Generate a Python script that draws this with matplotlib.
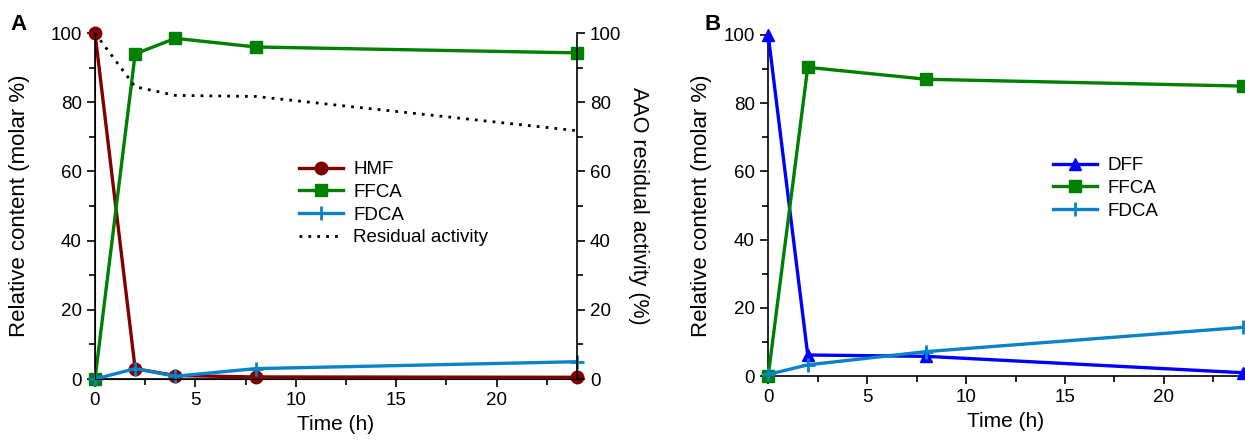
import matplotlib
matplotlib.use("Agg")
import matplotlib.pyplot as plt
from matplotlib.ticker import MultipleLocator

plt.rcParams['font.family'] = ['Liberation Sans', 'DejaVu Sans']
plt.rcParams['font.size'] = 13.5

# panel A
time_a = [0, 2, 4, 8, 24]
hmf = [100, 3, 1, 0.6, 0.5]
ffca_a = [0, 94, 98.5, 96, 94.3]
fdca_a = [0, 3, 0.8, 3, 5]
residual = [100, 84.5, 82, 81.7, 71.8]

# panel B
time_b = [0, 2, 8, 24]
dff = [100, 6.2, 5.8, 1]
ffca_b = [0, 90.5, 87, 85]
fdca_b = [0.5, 3.3, 7.2, 14.3]

red = '#800000'
green = '#008000'
cyan = '#0a82c8'
blue = '#0000ff'

fig = plt.figure(figsize=(12.45, 4.42), dpi=100)
axA = fig.add_axes([0.0763, 0.1425, 0.387, 0.7825])
axB = fig.add_axes([0.617, 0.149, 0.3815, 0.772])


def style(ax):
    ax.set_xlim(0, 24)
    ax.set_ylim(0, 100)
    ax.xaxis.set_major_locator(MultipleLocator(5))
    ax.xaxis.set_minor_locator(MultipleLocator(2.5))
    ax.yaxis.set_major_locator(MultipleLocator(20))
    ax.yaxis.set_minor_locator(MultipleLocator(10))
    ax.tick_params(which='major', direction='out', length=6, width=1.2)
    ax.tick_params(which='minor', direction='out', length=4, width=1.2)
    ax.spines['top'].set_visible(False)
    ax.spines['right'].set_visible(False)
    for s in ('left', 'bottom'):
        ax.spines[s].set_linewidth(1.2)
    ax.set_xlabel('Time (h)', fontsize=15, labelpad=4)
    ax.set_ylabel('Relative content (molar %)', fontsize=16, labelpad=8)


lw = 2.4
axA.plot(time_a, hmf, color=red, lw=lw, marker='o', ms=9, label='HMF', clip_on=False, zorder=3)
axA.plot(time_a, ffca_a, color=green, lw=lw, marker='s', ms=8, label='FFCA', clip_on=False, zorder=3)
axA.plot(time_a, fdca_a, color=cyan, lw=lw, marker='+', ms=10, mew=2, label='FDCA', clip_on=False, zorder=4)
style(axA)
axA.yaxis.labelpad = 15

twin = axA.twinx()
twin.plot(time_a, residual, color='black', lw=2, ls=(0, (1, 2.2)), label='Residual activity', clip_on=False)
twin.set_ylim(0, 100)
twin.yaxis.set_major_locator(MultipleLocator(20))
twin.yaxis.set_minor_locator(MultipleLocator(10))
twin.tick_params(which='major', direction='out', length=6, width=1.2)
twin.tick_params(which='minor', direction='out', length=4, width=1.2)
twin.spines['top'].set_visible(False)
twin.spines['right'].set_linewidth(1.2)
twin.set_ylabel('AAO residual activity (%)', rotation=270, labelpad=20, fontsize=15.5)

h1, l1 = axA.get_legend_handles_labels()
h2, l2 = twin.get_legend_handles_labels()
axA.legend(h1 + h2, l1 + l2, frameon=False, loc='upper left', bbox_to_anchor=(0.423, 0.63),
           handlelength=2.35, handletextpad=0.55, labelspacing=0.3, borderpad=0, borderaxespad=0)

axB.plot(time_b, dff, color=blue, lw=lw, marker='^', ms=9, label='DFF', clip_on=False, zorder=3)
axB.plot(time_b, ffca_b, color=green, lw=lw, marker='s', ms=8, label='FFCA', clip_on=False, zorder=3)
axB.plot(time_b, fdca_b, color=cyan, lw=lw, marker='+', ms=10, mew=2, label='FDCA', clip_on=False, zorder=4)
style(axB)
axB.legend(frameon=False, loc='upper left', bbox_to_anchor=(0.6, 0.642),
           handlelength=2.35, handletextpad=0.55, labelspacing=0.3, borderpad=0, borderaxespad=0)

fig.text(0.008, 0.933, 'A', fontsize=16, fontweight='bold')
fig.text(0.566, 0.933, 'B', fontsize=16, fontweight='bold')

fig.savefig('out.png', dpi=100)
